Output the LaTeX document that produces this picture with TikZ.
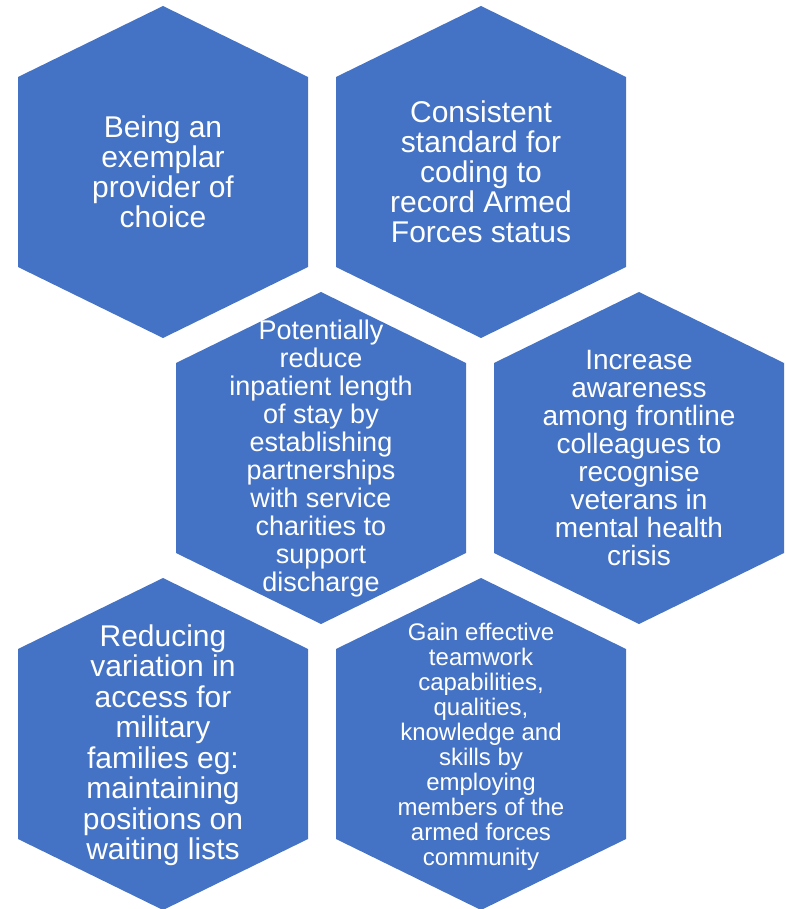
\documentclass[tikz,border=0pt]{standalone}
\usepackage{fontspec}
\setmainfont{Liberation Sans}
\definecolor{hexblue}{RGB}{68,114,196}
\tikzset{
	hexfill/.style={fill=hexblue},
	hextext/.style={text=white, align=center, inner sep=0pt},
}
\begin{document}
\begin{tikzpicture}[x=1pt,y=-1pt]
		
		\useasboundingbox (0,0) rectangle (786,909);
		
		\fill[hexfill] (163,6) -- (308,77) -- (308,267) -- (163,338) -- (18,267) -- (18,77) -- cycle;
		\fill[hexfill] (481,6) -- (626,77) -- (626,267) -- (481,338) -- (336,267) -- (336,77) -- cycle;
		
		\fill[hexfill] (321,292) -- (466,363) -- (466,553) -- (321,624) -- (176,553) -- (176,363) -- cycle;
		\fill[hexfill] (639,292) -- (784,363) -- (784,553) -- (639,624) -- (494,553) -- (494,363) -- cycle;
		
		\fill[hexfill] (163,578) -- (308,649) -- (308,839) -- (163,910) -- (18,839) -- (18,649) -- cycle;
		\fill[hexfill] (481,578) -- (626,649) -- (626,839) -- (481,910) -- (336,839) -- (336,649) -- cycle;
		
		\node[hextext, font=\fontsize{30}{30}\selectfont] (exemplar) at (163,172) {Being an\\exemplar\\provider of\\choice};
		\node[hextext, font=\fontsize{30}{30}\selectfont] (coding) at (481,172) {Consistent\\standard for\\coding to\\record Armed\\Forces status};
		
		\node[hextext, font=\fontsize{27}{28}\selectfont] (inpatient) at (321,459) {Potentially\\reduce\\inpatient length\\of stay by\\establishing\\partnerships\\with service\\charities to\\support\\discharge};
		\node[hextext, font=\fontsize{28}{28}\selectfont] (awareness) at (639,458) {Increase\\awareness\\among frontline\\colleagues to\\recognise\\veterans in\\mental health\\crisis};
		
		\node[hextext, font=\fontsize{30}{30.5}\selectfont] (access) at (163,745) {Reducing\\variation in\\access for\\military\\families eg:\\maintaining\\positions on\\waiting lists};
		\node[hextext, font=\fontsize{24}{25}\selectfont] (teamwork) at (481,747) {Gain effective\\teamwork\\capabilities,\\qualities,\\knowledge and\\skills by\\employing\\members of the\\armed forces\\community};
	
	\end{tikzpicture}
\end{document}
